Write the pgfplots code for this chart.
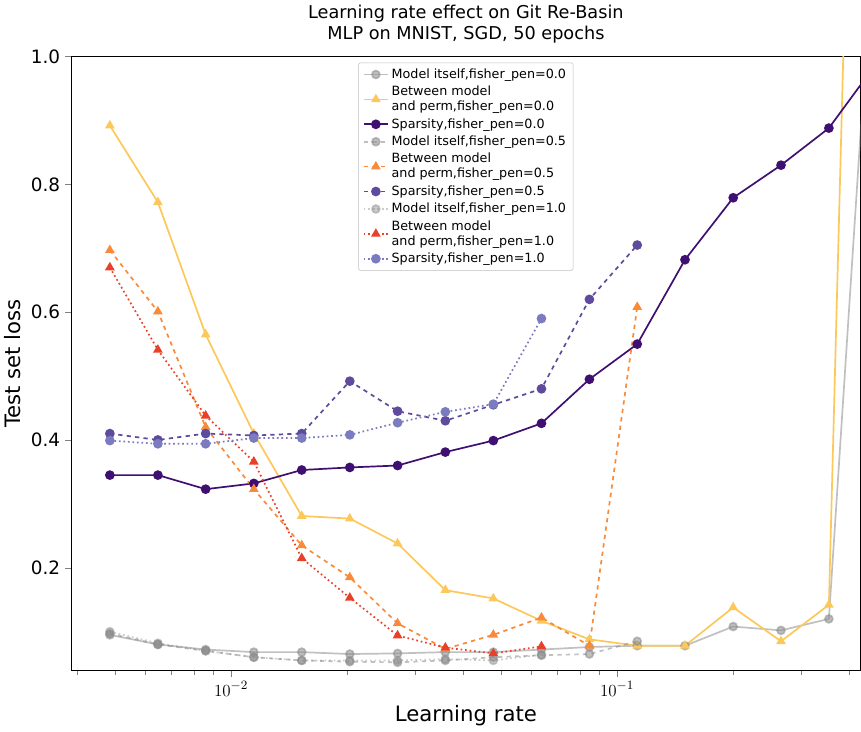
\documentclass[border=0pt]{standalone}
\usepackage{pgfplots}
\pgfplotsset{compat=1.18}
\usepackage{fontspec}
\setmainfont{DejaVu Sans}
\definecolor{sp0}{HTML}{3F0F72}
\definecolor{sp5}{HTML}{5F4B9E}
\definecolor{sp1}{HTML}{7B7BC0}
\definecolor{bt0}{HTML}{FCC85A}
\definecolor{bt5}{HTML}{F98A3A}
\definecolor{bt1}{HTML}{E8412A}
\definecolor{gr}{HTML}{8C8C8C}
\begin{document}
\begin{tikzpicture}
\begin{axis}[
  scale only axis, width=558pt, height=434pt,
  xmode=log, xmin=0.00385, xmax=0.428, ymin=0.039, ymax=1.0,
  ytick={0.2,0.4,0.6,0.8,1.0},
  tick align=outside, xtick pos=bottom, ytick pos=left,
  yticklabel style={/pgf/number format/fixed,/pgf/number format/precision=1,/pgf/number format/fixed zerofill},
  /pgf/number format/assume math mode=true,
  tick label style={font=\fontsize{13}{15}\selectfont},
  xlabel={Learning rate}, ylabel={Test set loss},
  label style={font=\fontsize{15}{18}\selectfont},
  title style={font=\fontsize{12.5}{15}\selectfont, align=center},
  title={Learning rate effect on Git Re-Basin\\MLP on MNIST, SGD, 50 epochs},
  legend style={at={(0.5,0.99)}, anchor=north, font=\fontsize{9}{10.5}\selectfont, nodes={align=left}, draw=black!25, rounded corners=1pt},
  legend cell align=left,
  every axis plot/.append style={line width=1.2pt, mark size=2.8pt},
]
\addplot[gr, opacity=0.55, mark=*] coordinates {(0.00485,0.095)(0.00646,0.08)(0.00859,0.072)(0.01145,0.068)(0.01524,0.068)(0.0203,0.065)(0.0270,0.066)(0.0359,0.068)(0.0478,0.068)(0.0637,0.072)(0.0848,0.076)(0.1128,0.078)(0.150,0.078)(0.200,0.108)(0.266,0.102)(0.354,0.12)(0.471,1.27)};
\addlegendentry{Model itself,fisher\_pen=0.0}
\addplot[bt0, mark=triangle*] coordinates {(0.00485,0.892)(0.00646,0.772)(0.00859,0.565)(0.01145,0.41)(0.01524,0.281)(0.0203,0.277)(0.0270,0.238)(0.0359,0.165)(0.0478,0.152)(0.0637,0.117)(0.0848,0.088)(0.1128,0.078)(0.150,0.078)(0.200,0.138)(0.266,0.085)(0.354,0.142)(0.471,3.0)};
\addlegendentry{Between model\\and perm,fisher\_pen=0.0}
\addplot[sp0, mark=*] coordinates {(0.00485,0.345)(0.00646,0.345)(0.00859,0.323)(0.01145,0.332)(0.01524,0.353)(0.0203,0.357)(0.0270,0.360)(0.0359,0.381)(0.0478,0.399)(0.0637,0.426)(0.0848,0.495)(0.1128,0.550)(0.150,0.682)(0.200,0.779)(0.266,0.830)(0.354,0.888)(0.471,0.99)};
\addlegendentry{Sparsity,fisher\_pen=0.0}
\addplot[gr, opacity=0.55, dashed, mark=*, mark options={solid}] coordinates {(0.00485,0.097)(0.00646,0.08)(0.00859,0.07)(0.01145,0.06)(0.01524,0.055)(0.0203,0.053)(0.0270,0.052)(0.0359,0.055)(0.0478,0.06)(0.0637,0.063)(0.0848,0.065)(0.1128,0.085)};
\addlegendentry{Model itself,fisher\_pen=0.5}
\addplot[bt5, dashed, mark=triangle*, mark options={solid}] coordinates {(0.00485,0.697)(0.00646,0.601)(0.00859,0.42)(0.01145,0.323)(0.01524,0.235)(0.0203,0.185)(0.0270,0.113)(0.0359,0.073)(0.0478,0.095)(0.0637,0.122)(0.0848,0.078)(0.1128,0.608)};
\addlegendentry{Between model\\and perm,fisher\_pen=0.5}
\addplot[sp5, dashed, mark=*, mark options={solid}] coordinates {(0.00485,0.41)(0.00646,0.40)(0.00859,0.41)(0.01145,0.407)(0.01524,0.41)(0.0203,0.492)(0.0270,0.445)(0.0359,0.430)(0.0478,0.455)(0.0637,0.480)(0.0848,0.62)(0.1128,0.705)};
\addlegendentry{Sparsity,fisher\_pen=0.5}
\addplot[gr, opacity=0.45, dotted, mark=*, mark options={solid}] coordinates {(0.00485,0.1)(0.00646,0.082)(0.00859,0.07)(0.01145,0.06)(0.01524,0.055)(0.0203,0.055)(0.0270,0.055)(0.0359,0.057)(0.0478,0.055)(0.0637,0.064)};
\addlegendentry{Model itself,fisher\_pen=1.0}
\addplot[bt1, dotted, mark=triangle*, mark options={solid}] coordinates {(0.00485,0.670)(0.00646,0.541)(0.00859,0.438)(0.01145,0.366)(0.01524,0.215)(0.0203,0.153)(0.0270,0.094)(0.0359,0.075)(0.0478,0.066)(0.0637,0.077)};
\addlegendentry{Between model\\and perm,fisher\_pen=1.0}
\addplot[sp1, dotted, mark=*, mark options={solid}] coordinates {(0.00485,0.399)(0.00646,0.394)(0.00859,0.394)(0.01145,0.403)(0.01524,0.403)(0.0203,0.408)(0.0270,0.427)(0.0359,0.444)(0.0478,0.456)(0.0637,0.59)};
\addlegendentry{Sparsity,fisher\_pen=1.0}
\end{axis}
\end{tikzpicture}
\end{document}
